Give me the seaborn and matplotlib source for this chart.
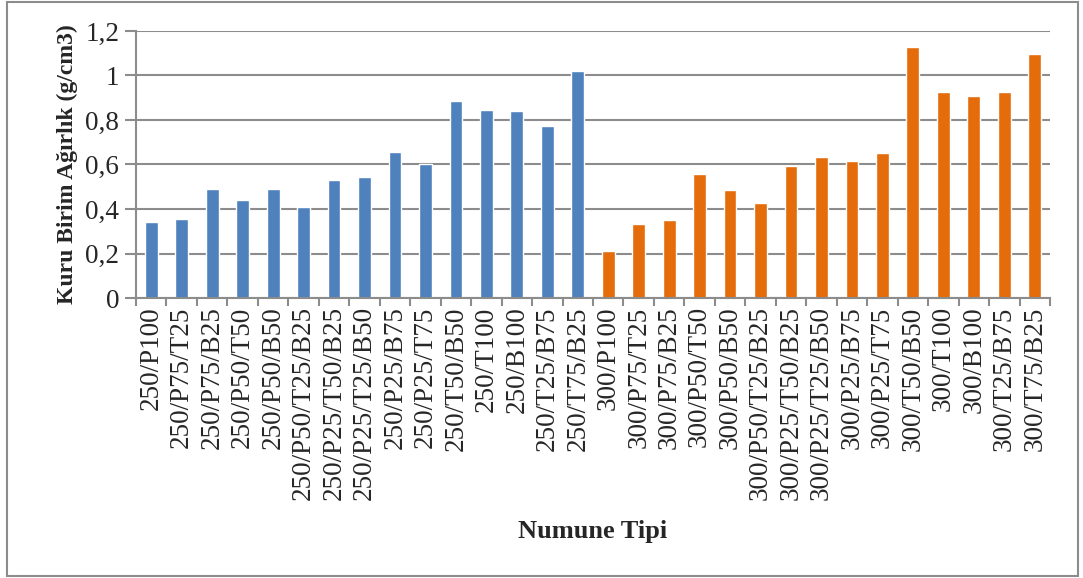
import matplotlib
matplotlib.use("Agg")
import matplotlib.pyplot as plt
from matplotlib.patches import Rectangle
from matplotlib.ticker import FixedLocator
import seaborn as sns
import pandas as pd

# Sample groups and their dry unit weights (g/cm3)
labels_250 = ["250/P100", "250/P75/T25", "250/P75/B25", "250/P50/T50", "250/P50/B50",
              "250/P50/T25/B25", "250/P25/T50/B25", "250/P25/T25/B50", "250/P25/B75",
              "250/P25/T75", "250/T50/B50", "250/T100", "250/B100", "250/T25/B75", "250/T75/B25"]
values_250 = [0.340, 0.354, 0.488, 0.439, 0.491, 0.407, 0.532, 0.542, 0.656,
              0.604, 0.887, 0.843, 0.839, 0.773, 1.020]

labels_300 = ["300/P100", "300/P75/T25", "300/P75/B25", "300/P50/T50", "300/P50/B50",
              "300/P50/T25/B25", "300/P25/T50/B25", "300/P25/T25/B50", "300/P25/B75",
              "300/P25/T75", "300/T50/B50", "300/T100", "300/B100", "300/T25/B75", "300/T75/B25"]
values_300 = [0.210, 0.331, 0.349, 0.556, 0.484, 0.425, 0.592, 0.632, 0.614,
              0.650, 1.127, 0.924, 0.906, 0.924, 1.095]

ytick_values = [0, 0.2, 0.4, 0.6, 0.8, 1.0, 1.2]
ytick_labels = ["0", "0,2", "0,4", "0,6", "0,8", "1", "1,2"]

df = pd.DataFrame({
    "numune": labels_250 + labels_300,
    "deger": values_250 + values_300,
    "grup": ["250"] * len(labels_250) + ["300"] * len(labels_300),
})

sns.set_theme(style="white")
plt.rcParams["font.family"] = ["Liberation Serif", "DejaVu Serif"]

fig = plt.figure(figsize=(10.83, 5.78), dpi=100)
ax = fig.add_axes([0.1256, 0.4844, 0.8439, 0.462])

grid_color = "#8c8c8c"
ax.set_axisbelow(True)
ax.yaxis.grid(True, color=grid_color, linewidth=1.5)

sns.barplot(data=df, x="numune", y="deger", hue="grup",
            palette={"250": "#4F81BD", "300": "#E46C0A"}, saturation=1,
            dodge=False, width=0.42, legend=False, ax=ax)

n = len(df)
ax.set_xlim(-0.5, n - 0.5)
ax.set_ylim(0, 1.2)
ax.set_yticks(ytick_values)
ax.set_yticklabels(ytick_labels, fontsize=19.5)
ax.tick_params(axis="x", which="major", length=0, labelsize=19.5, labelrotation=90, pad=6)
ax.xaxis.set_minor_locator(FixedLocator([i - 0.5 for i in range(n + 1)]))
ax.tick_params(axis="x", which="minor", length=6, width=1.5, color=grid_color, bottom=True)
ax.tick_params(axis="y", which="major", length=8, width=1.5, color=grid_color, left=True, pad=4)

for side in ["top", "right"]:
    ax.spines[side].set_visible(False)
for side in ["left", "bottom"]:
    ax.spines[side].set_color(grid_color)
    ax.spines[side].set_linewidth(1.5)

ax.set_xlabel("Numune Tipi", fontsize=19, fontweight="bold", labelpad=14)
ax.set_ylabel("Kuru Birim Ağırlık (g/cm3)", fontsize=17, fontweight="bold", labelpad=5)

# Frame around the whole chart
fig.patches.append(Rectangle((0.0065, 0.003), 0.989, 0.994, transform=fig.transFigure,
                             fill=False, edgecolor="#8c8c8c", linewidth=1.5))

fig.savefig("out.png", dpi=100)
